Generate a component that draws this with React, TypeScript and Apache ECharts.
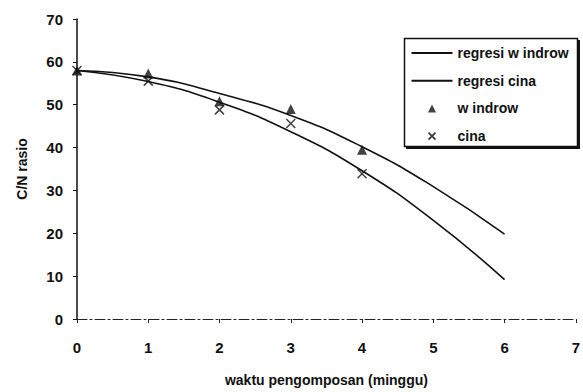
import React, { useEffect, useRef } from "react";
import * as echarts from "echarts";

const weeks = [0, 1, 2, 3, 4];
const windrowValues = [58, 57.3, 50.8, 49, 39.5];
const cinaValues = [58, 55.5, 48.8, 45.6, 33.9];

const regWeeks = [0, 1, 2, 3, 4, 5, 6];
const regWindrowValues = [58, 56.5, 52.6, 47.5, 40.2, 30.9, 19.8];
const regCinaValues = [58, 55.4, 50.6, 43.7, 34.6, 23.0, 9.2];

const xTicks = [0, 1, 2, 3, 4, 5, 6, 7];
const yTicks = [0, 10, 20, 30, 40, 50, 60, 70];

const seriesNames = ["regresi w indrow", "regresi cina", "w indrow", "cina"];

const FONT = "'Liberation Sans', Arial, sans-serif";

export default function App() {
  const ref = useRef<HTMLDivElement>(null);
  useEffect(() => {
    if (!ref.current) return;
    const chart = echarts.init(ref.current, undefined, { renderer: "svg" });
    const pair = (xs: number[], ys: number[]) => xs.map((x, i) => [x, ys[i]]);
    chart.setOption({
      animation: false,
      backgroundColor: "#fff",
      grid: { left: 77, right: 6, top: 19, bottom: 69 },
      graphic: [
        { type: "rect", z: 1, shape: { x: 406, y: 40, width: 174, height: 109 }, style: { fill: "#111" } },
        {
          type: "rect",
          z: 2,
          shape: { x: 404.5, y: 38.5, width: 173, height: 108 },
          style: { fill: "#fff", stroke: "#111", lineWidth: 1.5 },
        },
      ],
      xAxis: {
        type: "value",
        min: xTicks[0],
        max: xTicks[xTicks.length - 1],
        interval: 1,
        name: "waktu pengomposan (minggu)",
        nameLocation: "middle",
        nameGap: 54,
        nameTextStyle: { fontFamily: FONT, fontSize: 14, fontWeight: "bold", color: "#111" },
        axisLine: { show: true, onZero: false, lineStyle: { color: "#222", width: 1, type: [10, 3, 2, 3] } },
        axisTick: { show: true, length: 4, lineStyle: { color: "#222" } },
        axisLabel: { margin: 21, fontFamily: FONT, fontSize: 15, fontWeight: "bold", color: "#111" },
        splitLine: { show: false },
      },
      yAxis: {
        type: "value",
        min: yTicks[0],
        max: yTicks[yTicks.length - 1],
        interval: 10,
        name: "C/N rasio",
        nameLocation: "middle",
        nameGap: 48,
        nameTextStyle: { fontFamily: FONT, fontSize: 14, fontWeight: "bold", color: "#111" },
        axisLine: { show: true, lineStyle: { color: "#111", width: 1.5 } },
        axisTick: { show: true, length: 4, lineStyle: { color: "#111" } },
        axisLabel: { margin: 14, fontFamily: FONT, fontSize: 15, fontWeight: "bold", color: "#111" },
        splitLine: { show: false },
      },
      legend: {
        orient: "vertical",
        left: 409,
        top: 45,
        padding: 0,
        z: 10,
        itemWidth: 41,
        itemHeight: 10,
        itemGap: 11.7,
        textStyle: { fontFamily: FONT, fontSize: 14, lineHeight: 16, fontWeight: "bold", color: "#111" },
        data: [
          { name: seriesNames[0], itemStyle: { color: "transparent", borderWidth: 0, opacity: 0 } },
          { name: seriesNames[1], itemStyle: { color: "transparent", borderWidth: 0, opacity: 0 } },
          { name: seriesNames[2], icon: "path://M0,0M41,0M41,10M0,10M16.5,9L20.5,1L24.5,9Z" },
          { name: seriesNames[3], icon: "path://M0,0M41,0M41,10M0,10M17,1.5L24,8.5M24,1.5L17,8.5" },
        ],
      },
      series: [
        {
          name: seriesNames[0],
          type: "line",
          data: pair(regWeeks, regWindrowValues),
          smooth: true,
          symbol: "none",
          lineStyle: { color: "#111", width: 1.6 },
          itemStyle: { color: "#111" },
        },
        {
          name: seriesNames[1],
          type: "line",
          data: pair(regWeeks, regCinaValues),
          smooth: true,
          symbol: "none",
          lineStyle: { color: "#111", width: 1.6 },
          itemStyle: { color: "#111" },
        },
        {
          name: seriesNames[2],
          type: "scatter",
          data: pair(weeks, windrowValues),
          symbol: "triangle",
          symbolSize: 10,
          itemStyle: { color: "#111" },
        },
        {
          name: seriesNames[3],
          type: "scatter",
          data: pair(weeks, cinaValues),
          symbol: "path://M0,0L10,10M10,0L0,10",
          symbolSize: 9,
          itemStyle: { color: "none", borderColor: "#111", borderWidth: 1.5 },
        },
      ],
    });
    return () => chart.dispose();
  }, []);
  return (
    <div
      ref={ref}
      style={{ position: "fixed", left: 0, top: 0, width: 583, height: 392, background: "#fff" }}
    />
  );
}
